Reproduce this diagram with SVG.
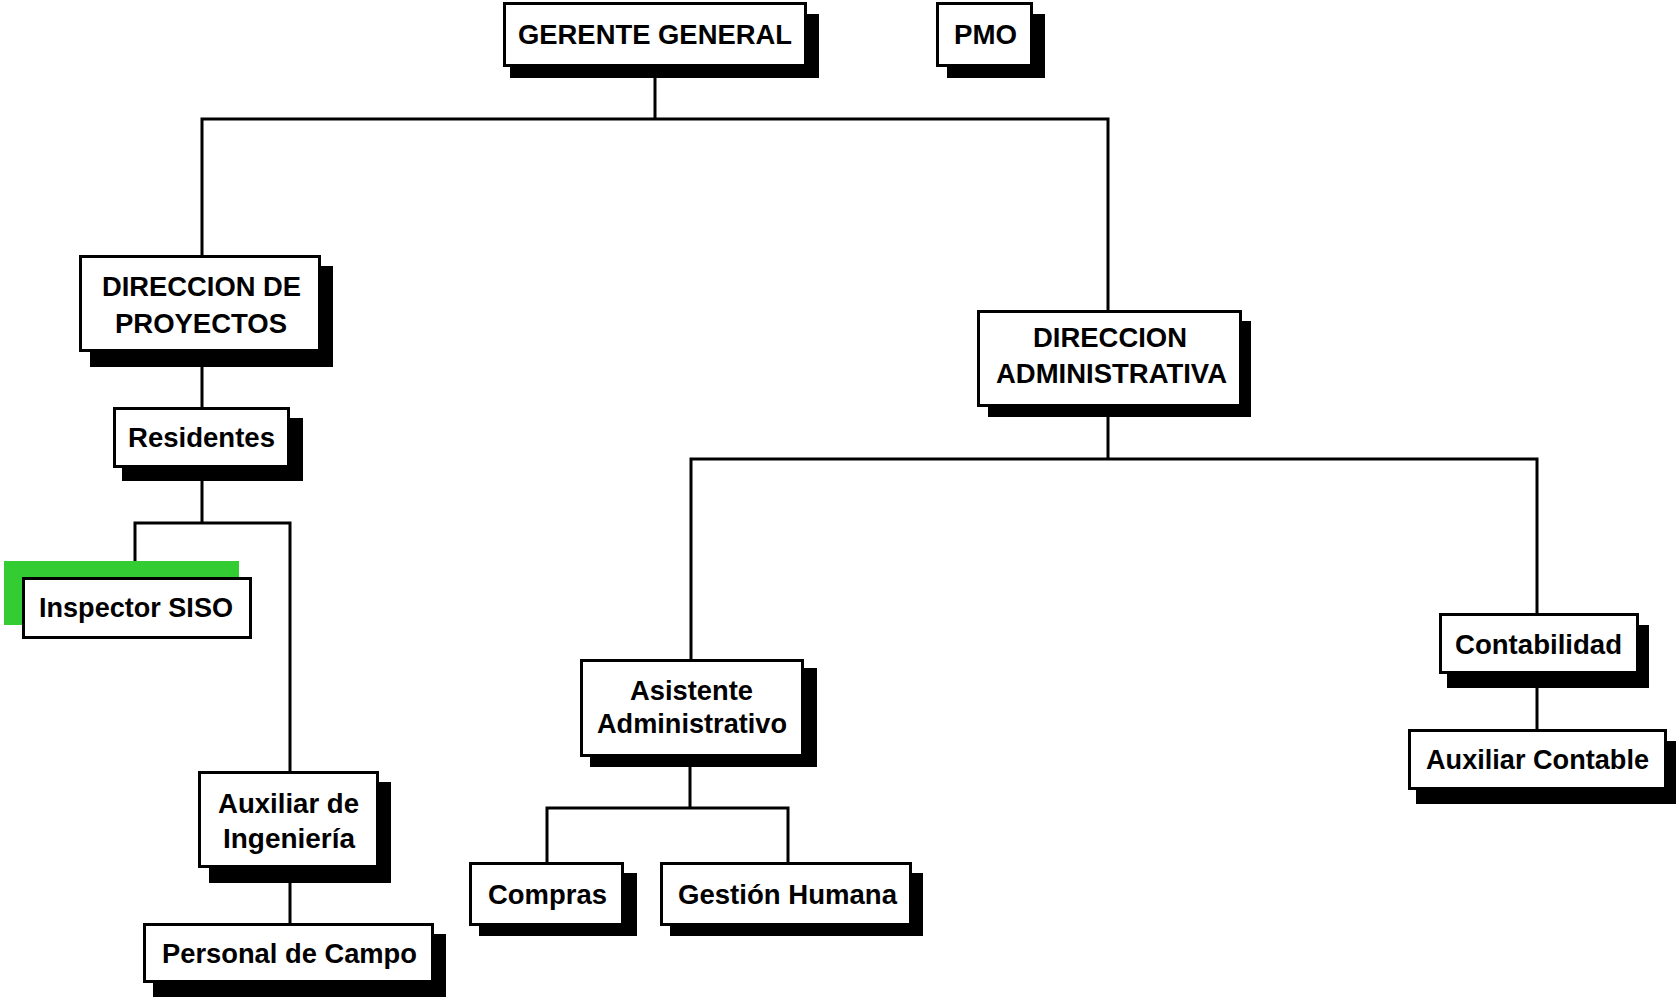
<svg xmlns="http://www.w3.org/2000/svg" width="1676" height="997" viewBox="0 0 1676 997">
<style>
.bg{fill:#ffffff}
.sh{fill:#000000}
.bx{fill:#ffffff;stroke:#000000;stroke-width:3}
.ln{fill:none;stroke:#000000;stroke-width:3;stroke-linecap:square}
.t{font-family:"Liberation Sans",Arial,sans-serif;font-weight:bold;font-size:27px;fill:#000000}
</style>
<rect class="bg" x="0" y="0" width="1676" height="997"/>
<g id="connectors">
<path class="ln" d="M655 67 V119 M202 119 H1108 M202 119 V255 M1108 119 V310"/>
<path class="ln" d="M202 352 V407 M202 468 V523 M135 523 H290 M135 523 V577 M290 523 V771 M290 868 V923"/>
<path class="ln" d="M1108 407 V459 M691 459 H1537 M691 459 V659 M1537 459 V613 M1537 674 V729"/>
<path class="ln" d="M690 757 V808 M547 808 H788 M547 808 V862 M788 808 V862"/>
</g>
<g id="gerente">
<rect class="sh" x="510" y="14" width="309" height="64"/>
<rect class="bx" x="504.5" y="3.5" width="301" height="62"/>
<text class="t" x="518" y="44" textLength="274" lengthAdjust="spacingAndGlyphs">GERENTE GENERAL</text>
</g>
<g id="pmo">
<rect class="sh" x="947" y="14" width="98" height="64"/>
<rect class="bx" x="937.5" y="3.5" width="94" height="62"/>
<text class="t" x="954" y="44" textLength="63" lengthAdjust="spacingAndGlyphs">PMO</text>
</g>
<g id="direccion-proyectos">
<rect class="sh" x="90" y="266" width="243" height="101"/>
<rect class="bx" x="80.5" y="256.5" width="239" height="94"/>
<text class="t" x="102" y="296" textLength="199" lengthAdjust="spacingAndGlyphs">DIRECCION DE</text>
<text class="t" x="115" y="333" textLength="172" lengthAdjust="spacingAndGlyphs">PROYECTOS</text>
</g>
<g id="residentes">
<rect class="sh" x="122" y="418" width="181" height="63"/>
<rect class="bx" x="114.5" y="408.5" width="174" height="58"/>
<text class="t" x="128" y="447" textLength="147" lengthAdjust="spacingAndGlyphs">Residentes</text>
</g>
<g id="inspector-siso">
<rect fill="#33cc33" x="4" y="561" width="235" height="64"/>
<rect class="bx" x="23.5" y="578.5" width="227" height="59"/>
<text class="t" x="39" y="617" textLength="194" lengthAdjust="spacingAndGlyphs">Inspector SISO</text>
</g>
<g id="auxiliar-ingenieria">
<rect class="sh" x="209" y="782" width="182" height="101"/>
<rect class="bx" x="199.5" y="772.5" width="178" height="94"/>
<text class="t" x="218" y="813" textLength="141" lengthAdjust="spacingAndGlyphs">Auxiliar de</text>
<text class="t" x="223" y="848" textLength="132" lengthAdjust="spacingAndGlyphs">Ingeniería</text>
</g>
<g id="personal-campo">
<rect class="sh" x="153" y="934" width="293" height="63"/>
<rect class="bx" x="144.5" y="924.5" width="288" height="57"/>
<text class="t" x="162" y="963" textLength="255" lengthAdjust="spacingAndGlyphs">Personal de Campo</text>
</g>
<g id="direccion-administrativa">
<rect class="sh" x="988" y="321" width="263" height="96"/>
<rect class="bx" x="978.5" y="311.5" width="262" height="94"/>
<text class="t" x="1033" y="347" textLength="154" lengthAdjust="spacingAndGlyphs">DIRECCION</text>
<text class="t" x="996" y="383" textLength="231" lengthAdjust="spacingAndGlyphs">ADMINISTRATIVA</text>
</g>
<g id="asistente-administrativo">
<rect class="sh" x="590" y="668" width="227" height="99"/>
<rect class="bx" x="581.5" y="660.5" width="221" height="95"/>
<text class="t" x="630" y="700" textLength="123" lengthAdjust="spacingAndGlyphs">Asistente</text>
<text class="t" x="597" y="733" textLength="190" lengthAdjust="spacingAndGlyphs">Administrativo</text>
</g>
<g id="compras">
<rect class="sh" x="479" y="873" width="158" height="63"/>
<rect class="bx" x="470.5" y="863.5" width="152" height="61"/>
<text class="t" x="488" y="904" textLength="119" lengthAdjust="spacingAndGlyphs">Compras</text>
</g>
<g id="gestion-humana">
<rect class="sh" x="670" y="873" width="253" height="63"/>
<rect class="bx" x="661.5" y="863.5" width="249" height="61"/>
<text class="t" x="678" y="904" textLength="219" lengthAdjust="spacingAndGlyphs">Gestión Humana</text>
</g>
<g id="contabilidad">
<rect class="sh" x="1447" y="625" width="202" height="63"/>
<rect class="bx" x="1440.5" y="614.5" width="197" height="58"/>
<text class="t" x="1455" y="654" textLength="167" lengthAdjust="spacingAndGlyphs">Contabilidad</text>
</g>
<g id="auxiliar-contable">
<rect class="sh" x="1416" y="741" width="260" height="63"/>
<rect class="bx" x="1409.5" y="730.5" width="256" height="58"/>
<text class="t" x="1426" y="769" textLength="223" lengthAdjust="spacingAndGlyphs">Auxiliar Contable</text>
</g>
</svg>
